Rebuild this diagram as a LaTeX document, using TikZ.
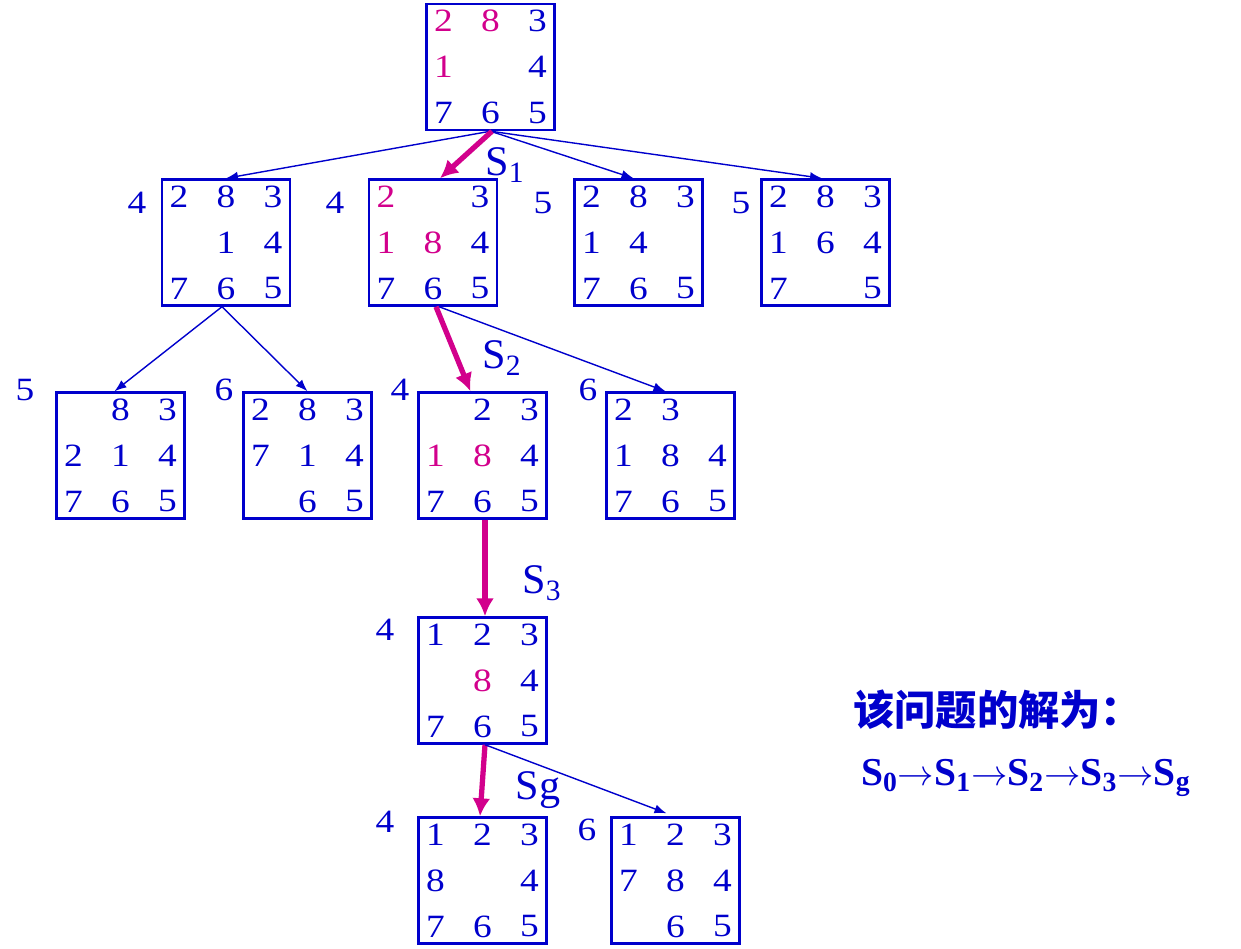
\documentclass[tikz,border=0pt]{standalone}
\usepackage{fontspec}
\setmainfont{Liberation Serif}
\newfontfamily\tilefont{Liberation Serif}[FakeStretch=1.15]
\newfontfamily\cjk{Noto Sans CJK SC}
\usetikzlibrary{matrix,arrows.meta}
\definecolor{bl}{RGB}{0,0,204}
\definecolor{mg}{RGB}{210,0,140}
\newcommand\digits{\tilefont\fontsize{18.5}{21}\selectfont}
\begin{document}
\begin{tikzpicture}[x=0.02cm, y=-0.02cm,
    board/.style={matrix of nodes, draw=bl, line width=1.4pt,
                  inner xsep=-0.13cm, inner ysep=-0.12cm, nodes in empty cells,
                  nodes={minimum width=0.94cm, minimum height=0.92cm,
                         inner sep=0pt, anchor=center, text=bl, font=\digits}},
    hl/.style={text=mg},
    cost/.style={text=bl, font=\digits},
    slbl/.style={text=bl, font=\fontsize{24}{28}\selectfont},
    tree/.style={-{Latex[length=0.24cm,width=0.18cm]}, draw=bl, line width=0.8pt},
    best/.style={-{Latex[length=0.36cm,width=0.36cm]}, draw=mg, line width=3pt}
]
\useasboundingbox (0,0) rectangle (1241,949);

% start state
\matrix[board] (s0) at (490.5,67) {
  |[hl]| 2 & |[hl]| 8 & 3 \\
  |[hl]| 1 &          & 4 \\
  7 & 6 & 5 \\
};

% first level
\matrix[board] (sA) at (226,242.5) {
  2 & 8 & 3 \\
    & 1 & 4 \\
  7 & 6 & 5 \\
};
\matrix[board] (sB) at (433,242.5) {
  |[hl]| 2 &          & 3 \\
  |[hl]| 1 & |[hl]| 8 & 4 \\
  7 & 6 & 5 \\
};
\matrix[board] (sC) at (638.5,242.5) {
  2 & 8 & 3 \\
  1 & 4 &   \\
  7 & 6 & 5 \\
};
\matrix[board] (sD) at (825.5,242.5) {
  2 & 8 & 3 \\
  1 & 6 & 4 \\
  7 &   & 5 \\
};

% second level
\matrix[board] (sE) at (120.5,455.5) {
    & 8 & 3 \\
  2 & 1 & 4 \\
  7 & 6 & 5 \\
};
\matrix[board] (sF) at (307.5,455.5) {
  2 & 8 & 3 \\
  7 & 1 & 4 \\
    & 6 & 5 \\
};
\matrix[board] (sG) at (482.5,455.5) {
           & 2        & 3 \\
  |[hl]| 1 & |[hl]| 8 & 4 \\
  7 & 6 & 5 \\
};
\matrix[board] (sH) at (670.5,455.5) {
  2 & 3 &   \\
  1 & 8 & 4 \\
  7 & 6 & 5 \\
};

% third and last level
\matrix[board] (sI) at (482.5,680.5) {
  1 & 2        & 3 \\
    & |[hl]| 8 & 4 \\
  7 & 6 & 5 \\
};
\matrix[board] (sJ) at (482.5,880.5) {
  1 & 2 & 3 \\
  8 &   & 4 \\
  7 & 6 & 5 \\
};
\matrix[board] (sK) at (675.5,880.5) {
  1 & 2 & 3 \\
  7 & 8 & 4 \\
    & 6 & 5 \\
};

% costs
\node[cost] (cA) at (137,203) {4};
\node[cost] (cB) at (335,203) {4};
\node[cost] (cC) at (543,203) {5};
\node[cost] (cD) at (741,203) {5};
\node[cost] (cE) at (25,390)  {5};
\node[cost] (cF) at (224,390) {6};
\node[cost] (cG) at (400,390) {4};
\node[cost] (cH) at (588,390) {6};
\node[cost] (cI) at (385,630) {4};
\node[cost] (cJ) at (385,822) {4};
\node[cost] (cK) at (587,830) {6};

% edges
\draw[tree] (s0.south) -- (sA.north);
\draw[tree] (s0.south) -- ([xshift=-0.1cm]sC.north);
\draw[tree] (s0.south) -- ([xshift=-0.07cm]sD.north);
\draw[best] ([xshift=0.03cm]s0.south) -- ([xshift=0.14cm]sB.north);
\draw[tree] ([xshift=-0.08cm]sA.south) -- ([xshift=-0.12cm]sE.north);
\draw[tree] ([xshift=-0.08cm]sA.south) -- (sF.north);
\draw[best] ([xshift=0.06cm]sB.south) -- ([xshift=-0.24cm]sG.north);
\draw[tree] ([xshift=0.12cm]sB.south) -- ([xshift=-0.1cm]sH.north);
\draw[best] ([xshift=0.05cm]sG.south) -- ([xshift=0.05cm]sI.north);
\draw[best] ([xshift=0.05cm]sI.south) -- ([xshift=-0.05cm]sJ.north);
\draw[tree] ([xshift=0.05cm]sI.south) -- ([xshift=-0.18cm,yshift=0.06cm]sK.north);

% step labels
\node[slbl] (l1) at (505,165) {S\textsubscript{1}};
\node[slbl] (l2) at (502,358) {S\textsubscript{2}};
\node[slbl] (l3) at (542,583) {S\textsubscript{3}};
\node[slbl] (lg) at (538,790) {Sg};

% solution
\node[text=bl, font=\cjk\bfseries\fontsize{23.5}{27}\selectfont, anchor=west] (ans) at (847,710) {该问题的解为：};
\node[text=bl, font=\bfseries\fontsize{22.5}{27}\selectfont, anchor=west] (path) at (855,778)
  {S\textsubscript{0}$\rightarrow$S\textsubscript{1}$\rightarrow$S\textsubscript{2}$\rightarrow$S\textsubscript{3}$\rightarrow$S\textsubscript{g}};
\end{tikzpicture}
\end{document}
